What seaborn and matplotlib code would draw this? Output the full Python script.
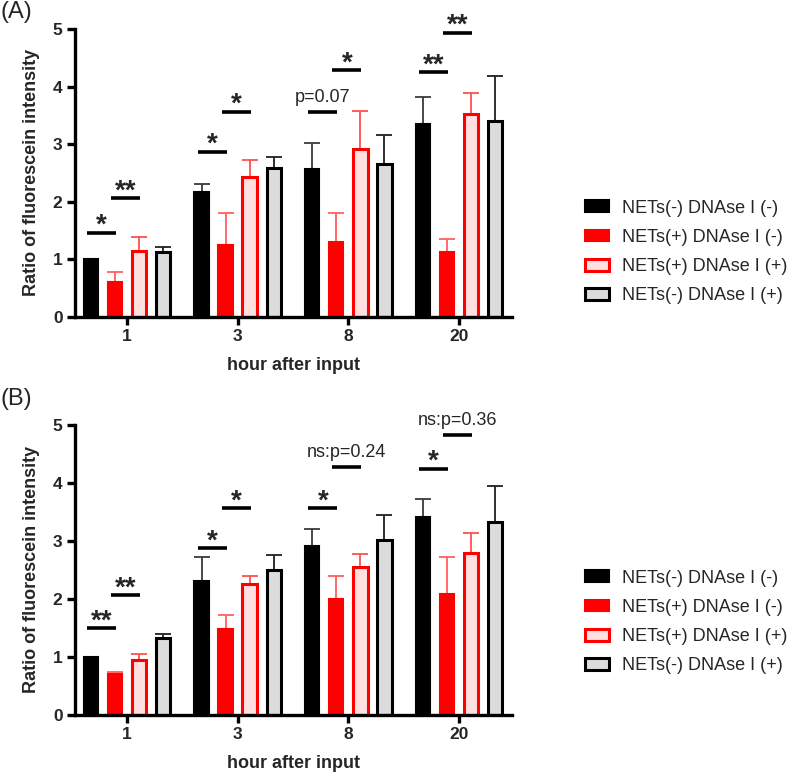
import numpy as np
import pandas as pd
import matplotlib
matplotlib.use("Agg")
import matplotlib.pyplot as plt
import seaborn as sns
from matplotlib.patches import Patch

# ---------------- data ----------------
hours = ["1", "3", "8", "20"]
groups = ["NETs(-) DNAse I (-)", "NETs(+) DNAse I (-)",
          "NETs(+) DNAse I (+)", "NETs(-) DNAse I (+)"]

# Panel A means / upper SD
a_mean_g1 = [1.00, 2.17, 2.57, 3.35]
a_mean_g2 = [0.60, 1.25, 1.29, 1.12]
a_mean_g3 = [1.15, 2.43, 2.92, 3.52]
a_mean_g4 = [1.13, 2.59, 2.66, 3.40]
a_err_g1 = [0.00, 0.14, 0.45, 0.46]
a_err_g2 = [0.18, 0.56, 0.52, 0.23]
a_err_g3 = [0.23, 0.29, 0.66, 0.36]
a_err_g4 = [0.08, 0.18, 0.49, 0.79]

# Panel B means / upper SD
b_mean_g1 = [1.00, 2.30, 2.91, 3.42]
b_mean_g2 = [0.71, 1.48, 1.99, 2.09]
b_mean_g3 = [0.94, 2.25, 2.55, 2.79]
b_mean_g4 = [1.32, 2.49, 3.02, 3.33]
b_err_g1 = [0.00, 0.42, 0.30, 0.31]
b_err_g2 = [0.03, 0.24, 0.41, 0.63]
b_err_g3 = [0.10, 0.15, 0.23, 0.35]
b_err_g4 = [0.07, 0.27, 0.42, 0.62]

# significance: (hour index, from group, to group, height, label)
a_sig = [(0, 0, 1, 1.46, "*"), (0, 1, 2, 2.06, "**"),
         (1, 0, 1, 2.87, "*"), (1, 1, 2, 3.56, "*"),
         (2, 0, 1, 3.56, "p=0.07"), (2, 1, 2, 4.28, "*"),
         (3, 0, 1, 4.25, "**"), (3, 1, 2, 4.93, "**")]
b_sig = [(0, 0, 1, 1.49, "**"), (0, 1, 2, 2.06, "**"),
         (1, 0, 1, 2.87, "*"), (1, 1, 2, 3.56, "*"),
         (2, 0, 1, 3.56, "*"), (2, 1, 2, 4.28, "ns:p=0.24"),
         (3, 0, 1, 4.24, "*"), (3, 1, 2, 4.83, "ns:p=0.36")]

# ---------------- style ----------------
fills = ["#000000", "#FF0000", "#FFE0E0", "#DCDCDC"]
edges = ["#000000", "#FF0000", "#FF0000", "#000000"]
edge_lw = [1.5, 1.5, 2.2, 2.2]
err_cols = ["#3a3a3a", "#FF6060", "#FF5050", "#202020"]

sns.set_theme(style="ticks")
plt.rcParams["font.family"] = ["Liberation Sans", "DejaVu Sans"]

fig = plt.figure(figsize=(7.9, 7.76), dpi=100)
axA = fig.add_axes([75 / 790, 1 - 316.7 / 776, 437 / 790, 287.7 / 776])
axB = fig.add_axes([75 / 790, 1 - 714.7 / 776, 437 / 790, 289.7 / 776])


def draw_panel(ax, means, errs, sigs):
    rows = []
    for g, m in zip(groups, means):
        for h, v in zip(hours, m):
            rows.append({"hour": h, "group": g, "value": v})
    df = pd.DataFrame(rows)
    sns.barplot(data=df, x="hour", y="value", hue="group", order=hours,
                hue_order=groups, palette=fills, saturation=1,
                width=0.87, gap=0.4, errorbar=None, legend=False, ax=ax)
    conts = list(ax.containers)
    centers = []
    for k, cont in enumerate(conts):
        xs, hs = [], []
        for p in cont:
            p.set_facecolor(fills[k])
            p.set_edgecolor(edges[k])
            p.set_linewidth(edge_lw[k])
            p.set_zorder(2)
            xs.append(p.get_x() + p.get_width() / 2)
            hs.append(p.get_height())
        centers.append(xs)
        ax.errorbar(xs, hs, yerr=[np.zeros(len(errs[k])), errs[k]], fmt="none",
                    ecolor=err_cols[k], elinewidth=1.3, capsize=5.5,
                    capthick=1.3, zorder=1)
    for hi, i, j, y, lab in sigs:
        x0 = centers[i][hi] - 0.035
        x1 = centers[j][hi] + 0.01
        ax.plot([x0, x1], [y, y], color="black", lw=2.6,
                solid_capstyle="butt", clip_on=False, zorder=3)
        xc = (x0 + x1) / 2
        if lab.startswith("*"):
            ax.annotate(lab, (xc, y), xytext=(0, 0), textcoords="offset points",
                        ha="center", va="baseline", fontsize=20,
                        fontweight="bold", annotation_clip=False)
        else:
            ax.annotate(lab, (xc, y), xytext=(0, 7), textcoords="offset points",
                        ha="center", va="baseline", fontsize=13,
                        annotation_clip=False)

    ax.set_xlim(-0.47, 3.48)
    ax.set_ylim(0, 5)
    ax.set_yticks([0, 1, 2, 3, 4, 5])
    for s in ["top", "right"]:
        ax.spines[s].set_visible(False)
    for s in ["left", "bottom"]:
        ax.spines[s].set_linewidth(2.4)
        ax.spines[s].set_color("black")
    ax.tick_params(axis="both", width=2.4, length=6, labelsize=12.5,
                   color="black", pad=3)
    for t in ax.get_xticklabels() + ax.get_yticklabels():
        t.set_fontweight("bold")
    ax.set_ylabel("Ratio of fluorescein intensity", fontsize=13,
                  fontweight="bold", labelpad=9)
    ax.set_xlabel("hour after input", fontsize=13, fontweight="bold",
                  labelpad=9)


draw_panel(axA, [a_mean_g1, a_mean_g2, a_mean_g3, a_mean_g4],
           [a_err_g1, a_err_g2, a_err_g3, a_err_g4], a_sig)
draw_panel(axB, [b_mean_g1, b_mean_g2, b_mean_g3, b_mean_g4],
           [b_err_g1, b_err_g2, b_err_g3, b_err_g4], b_sig)

handles = [Patch(facecolor=fills[k], edgecolor=edges[k], linewidth=edge_lw[k])
           for k in range(4)]
for yc in [252, 622]:
    fig.legend(handles, groups, loc="center left",
               bbox_to_anchor=(585 / 790, 1 - yc / 776), frameon=False,
               fontsize=13, handlelength=1.35, handleheight=0.6,
               handletextpad=0.7, labelspacing=0.68, borderpad=0,
               borderaxespad=0)

fig.text(0.0, 1 - 1 / 776, "(A)", fontsize=17, ha="left", va="top")
fig.text(0.0, 1 - 388 / 776, "(B)", fontsize=17, ha="left", va="top")

fig.savefig("out.png", dpi=100)
